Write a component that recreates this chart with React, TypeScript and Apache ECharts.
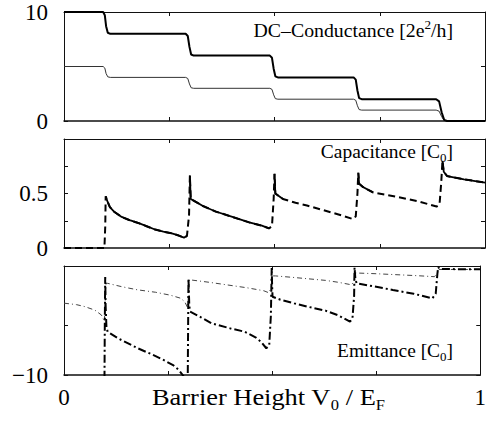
import React, { useEffect, useRef } from "react";
import * as echarts from "echarts";

// ---------- DC conductance (panel 1) ----------
const condX = [0, 0.093, 0.097, 0.1, 0.104, 0.11, 0.289, 0.294, 0.298, 0.302, 0.308, 0.489, 0.494, 0.498, 0.502, 0.508, 0.688, 0.693, 0.697, 0.701, 0.707, 0.884, 0.891, 0.897, 0.903, 0.91, 1];
const condThick = [10, 10, 9.7, 8.7, 8.1, 8, 8, 7.8, 6.8, 6.1, 6, 6, 5.8, 4.8, 4.1, 4, 4, 3.8, 2.8, 2.1, 2, 2, 1.8, 0.8, 0.1, 0, 0];
const condThin = [5, 5, 4.85, 4.35, 4.05, 4, 4, 3.9, 3.4, 3.05, 3, 3, 2.9, 2.4, 2.05, 2, 2, 1.9, 1.4, 1.05, 1, 1, 0.9, 0.4, 0.05, 0, 0];

// ---------- Capacitance (panel 2) ----------
const capX = [0, 0.05, 0.096, 0.098, 0.099, 0.103, 0.109, 0.12, 0.137, 0.156, 0.176, 0.196, 0.216, 0.236, 0.256, 0.272, 0.285, 0.292, 0.297, 0.299, 0.301, 0.31, 0.33, 0.36, 0.4, 0.44, 0.47, 0.487, 0.494, 0.498, 0.5, 0.502, 0.52, 0.55, 0.577, 0.6, 0.65, 0.687, 0.693, 0.697, 0.699, 0.701, 0.71, 0.734, 0.79, 0.84, 0.885, 0.892, 0.896, 0.899, 0.902, 0.91, 0.95, 1];
const capDashed = [0, 0, 0, 0.2, 0.475, 0.43, 0.375, 0.33, 0.285, 0.255, 0.23, 0.2, 0.17, 0.15, 0.135, 0.115, 0.095, 0.11, 0.3, 0.665, 0.45, 0.43, 0.385, 0.335, 0.285, 0.235, 0.205, 0.18, 0.2, 0.45, 0.68, 0.5, 0.45, 0.415, 0.39, 0.365, 0.31, 0.265, 0.29, 0.5, 0.69, 0.59, 0.56, 0.51, 0.47, 0.43, 0.38, 0.4, 0.6, 0.8, 0.7, 0.66, 0.63, 0.6];
const capSolid = [null, null, null, null, 0.475, 0.43, 0.375, 0.33, 0.285, 0.255, 0.23, 0.2, 0.17, 0.15, 0.135, 0.115, 0.095, 0.11, null, 0.665, 0.45, 0.43, 0.385, 0.335, 0.285, 0.235, 0.205, 0.18, null, null, 0.68, 0.5, 0.45, null, null, null, null, null, null, null, 0.69, 0.59, 0.56, 0.51, null, null, null, null, null, 0.8, 0.7, 0.66, 0.63, 0.6];

// ---------- Emittance (panel 3) ----------
const emitThinX = [0, 0.03, 0.05, 0.074, 0.09, 0.097, 0.099, 0.101, 0.105, 0.14, 0.176, 0.22, 0.256, 0.28, 0.29, 0.297, 0.299, 0.301, 0.307, 0.35, 0.394, 0.44, 0.48, 0.492, 0.498, 0.501, 0.508, 0.55, 0.628, 0.66, 0.691, 0.697, 0.699, 0.75, 0.8, 0.85, 0.89, 0.897, 0.9, 1];
const emitThin = [-2.75, -2.9, -3.1, -3.45, -3.95, -4.6, -2.5, -0.75, -0.75, -1.1, -1.4, -1.65, -1.95, -2.25, -2.6, -3.2, -2, -0.4, -0.42, -0.65, -0.92, -1.2, -1.5, -1.7, -1.2, 0, 0, -0.15, -0.45, -0.65, -0.9, -0.5, 0.3, 0.22, 0.12, 0.02, -0.08, 0.3, 0.65, 0.65];
const emitThickX = [0.097, 0.098, 0.099, 0.1, 0.102, 0.105, 0.13, 0.177, 0.21, 0.24, 0.262, 0.276, 0.287, 0.293, 0.297, 0.299, 0.301, 0.303, 0.33, 0.355, 0.4, 0.434, 0.46, 0.473, 0.486, 0.493, 0.497, 0.499, 0.5, 0.501, 0.52, 0.553, 0.59, 0.628, 0.66, 0.687, 0.693, 0.697, 0.698, 0.7, 0.703, 0.75, 0.79, 0.84, 0.885, 0.893, 0.897, 0.899, 0.902, 0.95, 1];
const emitThick = [-12, -5, -0.1, -3, -5.2, -5.65, -6.3, -7.3, -7.9, -8.5, -9, -9.5, -10.1, -12, -12, -0.25, -3, -3.6, -4.2, -4.8, -5.3, -5.63, -6.2, -6.64, -7.3, -7.0, -4, 0.8, -1, -2.1, -2.4, -2.77, -3.15, -3.5, -4.0, -4.62, -4.3, -2, 0.85, -0.3, -0.75, -1.1, -1.42, -1.8, -2.26, -1.8, 0.2, 0.9, 0.7, 0.68, 0.68];

// ---------- Axis tick labels ----------
const xTickLabels: Record<string, string> = { "0": "0", "1": "1" };
const condTickLabels: Record<string, string> = { "0": "0", "10": "10" };
const capTickLabels: Record<string, string> = { "0": "0", "0.5": "0.5" };
const emitTickLabels: Record<string, string> = { "-10": "\u221210" };

const FONT = '"Liberation Serif", "Times New Roman", serif';

const zip = (xs: number[], ys: (number | null)[]) => xs.map((x, i) => [x, ys[i]]);

function buildOption() {
  const grids = [
    { left: 64, top: 12, width: 421, height: 109 },
    { left: 64, top: 139, width: 421, height: 109 },
    { left: 64, top: 266, width: 421, height: 109 },
  ];
  const lineCol = "#111";
  const xAxes: any[] = [];
  const yAxes: any[] = [];
  grids.forEach((_, g) => {
    const isBottom = g === 2;
    xAxes.push({
      type: "value",
      gridIndex: g,
      min: 0,
      max: 1,
      interval: 0.25,
      position: "bottom",
      axisLine: { show: true, onZero: false, lineStyle: { color: lineCol, width: 1.5 } },
      axisTick: { show: true, inside: true, length: 4, lineStyle: { color: lineCol } },
      axisLabel: {
        show: isBottom,
        margin: 11,
        fontFamily: FONT,
        fontSize: 23,
        color: "#000",
        formatter: (v: number) => xTickLabels[String(v)] ?? "",
      },
      splitLine: { show: false },
    });
    xAxes.push({
      type: "value",
      gridIndex: g,
      min: 0,
      max: 1,
      interval: 0.25,
      position: "top",
      axisLine: { show: true, onZero: false, lineStyle: { color: lineCol, width: 1 } },
      axisTick: { show: true, inside: true, length: 4, lineStyle: { color: lineCol } },
      axisLabel: { show: false },
      splitLine: { show: false },
    });
  });
  const ySpecs = [
    { min: 0, max: 10, interval: 5, labels: condTickLabels, ticks: undefined as number[] | undefined },
    { min: 0, max: 1, interval: 0.25, labels: capTickLabels, ticks: undefined as number[] | undefined },
    { min: -10, max: 1, interval: 5, labels: emitTickLabels, ticks: [-10, -5] as number[] | undefined },
  ];
  ySpecs.forEach((s, g) => {
    const tick: any = { show: true, inside: true, length: 4, lineStyle: { color: lineCol } };
    if (s.ticks) tick.customValues = s.ticks;
    const lab: any = {
      show: true,
      margin: 16,
      fontFamily: FONT,
      fontSize: 23,
      color: "#000",
      formatter: (v: number) => s.labels[String(v)] ?? "",
    };
    if (s.ticks) lab.customValues = [-10];
    yAxes.push({
      type: "value",
      gridIndex: g,
      min: s.min,
      max: s.max,
      interval: s.interval,
      position: "left",
      axisLine: { show: true, onZero: false, lineStyle: { color: lineCol, width: 1 } },
      axisTick: tick,
      axisLabel: lab,
      splitLine: { show: false },
    });
    const tick2: any = { show: true, inside: true, length: 4, lineStyle: { color: lineCol } };
    if (s.ticks) tick2.customValues = s.ticks;
    yAxes.push({
      type: "value",
      gridIndex: g,
      min: s.min,
      max: s.max,
      interval: s.interval,
      position: "right",
      axisLine: { show: true, onZero: false, lineStyle: { color: lineCol, width: 1 } },
      axisTick: tick2,
      axisLabel: { show: false },
      splitLine: { show: false },
    });
  });

  const base = { type: "line", showSymbol: false, symbol: "none", clip: true, silent: true };

  const series: any[] = [
    { ...base, name: "G thin", xAxisIndex: 0, yAxisIndex: 0, data: zip(condX, condThin), lineStyle: { color: "#333", width: 1 }, z: 2 },
    { ...base, name: "G thick", xAxisIndex: 0, yAxisIndex: 0, data: zip(condX, condThick), lineStyle: { color: "#000", width: 2 }, z: 3 },
    { ...base, name: "C dashed", xAxisIndex: 2, yAxisIndex: 2, data: zip(capX, capDashed), lineStyle: { color: "#000", width: 2, type: [7, 4] }, z: 2 },
    { ...base, name: "C solid", xAxisIndex: 2, yAxisIndex: 2, data: zip(capX, capSolid), connectNulls: false, lineStyle: { color: "#000", width: 1.8 }, z: 3 },
    { ...base, name: "E thin", xAxisIndex: 4, yAxisIndex: 4, data: zip(emitThinX, emitThin), lineStyle: { color: "#444", width: 1, type: [5, 3, 1, 3] }, z: 2 },
    { ...base, name: "E thick", xAxisIndex: 4, yAxisIndex: 4, data: zip(emitThickX, emitThick), lineStyle: { color: "#000", width: 2, type: [8, 3, 2, 3] }, z: 3 },
  ];

  const titleStyle = (text: string) => ({
    text,
    align: "right",
    verticalAlign: "middle",
    fontFamily: FONT,
    fontSize: 18,
    lineHeight: 24,
    fill: "#000",
    rich: {
      sup: { fontFamily: FONT, fontSize: 12, lineHeight: 12, verticalAlign: "top", fill: "#000" },
      sub: { fontFamily: FONT, fontSize: 12, lineHeight: 12, verticalAlign: "bottom", fill: "#000" },
    },
  });

  const graphic: any[] = [
    { type: "text", x: 453, y: 31, scaleX: 1.1, style: titleStyle("DC\u2013Conductance [2e{sup|2}/h]"), z: 10 },
    { type: "text", x: 453, y: 152, scaleX: 1.08, style: titleStyle("Capacitance [C{sub|0}]"), z: 10 },
    { type: "text", x: 453, y: 351, scaleX: 1.08, style: titleStyle("Emittance [C{sub|0}]"), z: 10 },
    {
      type: "text",
      x: 152,
      y: 397,
      scaleX: 1.1,
      z: 10,
      style: {
        text: "Barrier Height V{sub|0} / E{sub|F}",
        align: "left",
        verticalAlign: "middle",
        fontFamily: FONT,
        fontSize: 24,
        lineHeight: 30,
        fill: "#000",
        rich: {
          sub: { fontFamily: FONT, fontSize: 15, lineHeight: 15, verticalAlign: "bottom", fill: "#000" },
        },
      },
    },
  ];

  return {
    animation: false,
    backgroundColor: "#fff",
    grid: grids.map((g) => ({ ...g, show: false })),
    xAxis: xAxes,
    yAxis: yAxes,
    series,
    graphic,
  };
}

export default function App() {
  const ref = useRef<HTMLDivElement>(null);
  useEffect(() => {
    if (!ref.current) return;
    const chart = echarts.init(ref.current, null, { renderer: "svg" });
    chart.setOption(buildOption() as any);
    return () => chart.dispose();
  }, []);
  return <div ref={ref} style={{ position: "absolute", left: 0, top: 0, width: 489, height: 422 }} />;
}
